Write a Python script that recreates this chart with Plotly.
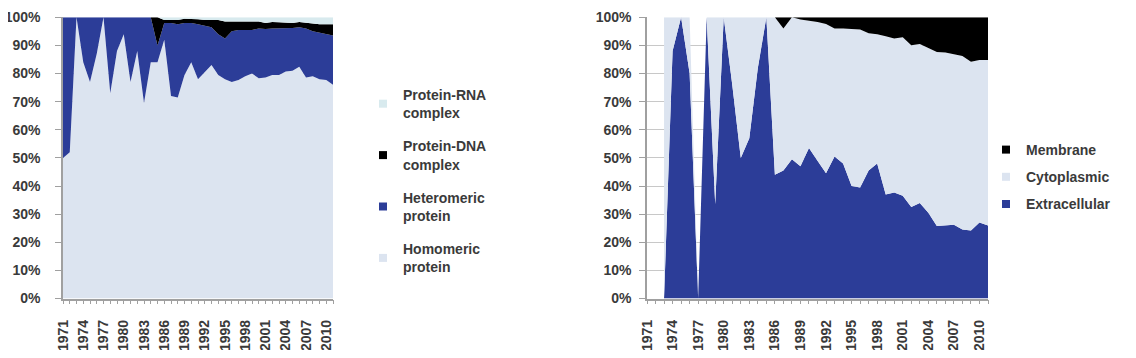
import plotly.graph_objects as go

# ---------------- data (percent shares) ----------------
years_left = list(range(1971, 2012))
homomeric = [50, 52, 100, 84, 77, 87, 100, 73, 88, 94, 77, 88, 69.5, 84, 84, 92,
             72, 71.5, 79.5, 84, 78, 80.5, 83, 79.5, 78, 77, 77.7, 79, 80, 78.3,
             78.6, 79.5, 79.5, 80.7, 81, 82.4, 78.6, 79, 78, 77.7, 76]
heteromeric = [50, 48, 0, 16, 23, 13, 0, 27, 12, 6, 23, 12, 30.5, 16, 6, 6,
               26, 26, 18.5, 14, 19.5, 16.5, 13.5, 14.5, 14.5, 18, 17.8, 16.5, 15.5, 17.7,
               17.2, 16.5, 16.5, 15.3, 15.2, 14.1, 17.4, 16, 16.5, 16.3, 17.5]
protein_dna = [0, 0, 0, 0, 0, 0, 0, 0, 0, 0, 0, 0, 0, 0, 10, 1,
               1, 1.5, 1.5, 1.5, 1.8, 2, 2.5, 5, 6, 3.5, 3, 2.8, 3, 2.5,
               2.2, 2.3, 2.2, 2, 1.8, 1.8, 2, 2.8, 3, 3.5, 4]
protein_rna = [0, 0, 0, 0, 0, 0, 0, 0, 0, 0, 0, 0, 0, 0, 0, 1,
               1, 1, 0.5, 0.5, 0.7, 1, 1, 1, 1.5, 1.5, 1.5, 1.7, 1.5, 1.5,
               2, 1.7, 1.8, 2, 2, 1.7, 2, 2.2, 2.5, 2.5, 2.5]

years_right = list(range(1973, 2012))
extracellular = [0, 88, 100, 80, 0, 100, 33.5, 100, 76, 50, 57, 82, 100, 44,
                 45.5, 49.5, 47, 53.5, 49, 44.5, 50.5, 48, 40, 39.5, 45.5, 48,
                 37, 37.7, 36.5, 32.5, 34, 30.5, 25.8, 26, 26.2, 24.5, 24.2, 27, 26]
cytoplasmic = [100, 12, 0, 20, 0, 0, 66.5, 0, 24, 50, 43, 18, 0, 56,
               50.5, 50.5, 52.2, 45.3, 49.3, 53.1, 45.5, 48, 55.8, 56.2, 48.8, 46,
               56.3, 54.8, 56.4, 57.6, 56.5, 58.5, 61.9, 61.5, 60.6, 61.7, 60, 57.8, 58.8]
membrane = [0, 0, 0, 0, 0, 0, 0, 0, 0, 0, 0, 0, 0, 0,
            4, 0, 0.8, 1.2, 1.7, 2.4, 4, 4, 4.2, 4.3, 5.7, 6,
            6.7, 7.5, 7.1, 9.9, 9.5, 11, 12.3, 12.5, 13.2, 13.8, 15.8, 15.2, 15.2]

# ---------------- styles ----------------
LIGHT = "#dce4f0"
BLUE = "#2c3d98"
BLACK = "#000000"
RNA = "#d8eaee"
TXT = "#3a3a3a"
FONT = "Liberation Sans"

fig = go.Figure()

left_series = [("Homomeric<br>protein", homomeric, LIGHT),
               ("Heteromeric<br>protein", heteromeric, BLUE),
               ("Protein-DNA<br>complex", protein_dna, BLACK),
               ("Protein-RNA<br>complex", protein_rna, RNA)]
for name, vals, col in left_series:
    fig.add_trace(go.Scatter(x=years_left, y=vals, name=name, mode="lines",
                             stackgroup="L", line=dict(width=0, color=col),
                             fillcolor=col, xaxis="x", yaxis="y", showlegend=False))

right_series = [("Extracellular", extracellular, BLUE),
                ("Cytoplasmic", cytoplasmic, LIGHT),
                ("Membrane", membrane, BLACK)]
for name, vals, col in right_series:
    fig.add_trace(go.Scatter(x=years_right, y=vals, name=name, mode="lines",
                             stackgroup="R", line=dict(width=0, color=col),
                             fillcolor=col, xaxis="x2", yaxis="y2", showlegend=False))

# legend entries (small square keys, listed top to bottom as in the chart)
for i, (name, _, col) in enumerate(reversed(left_series)):
    fig.add_trace(go.Scatter(x=[None], y=[None], name=name, mode="markers",
                             marker=dict(symbol="square", size=8, color=col),
                             legend="legend", legendgroup=f"L{i}",
                             xaxis="x", yaxis="y"))
for i, (name, _, col) in enumerate(reversed(right_series)):
    fig.add_trace(go.Scatter(x=[None], y=[None], name=name, mode="markers",
                             marker=dict(symbol="square", size=8, color=col),
                             legend="legend2", legendgroup=f"R{i}",
                             xaxis="x2", yaxis="y2"))

# page has an 8px body margin, so the figure is 16px smaller than the window
W, H = 1120, 342
OFF = 8
ydom = [(H - (298.5 - OFF)) / H, (H - (17.3 - OFF)) / H]

xcommon = dict(range=[1971, 2011], tick0=1971, dtick=3, tickangle=-90,
               ticks="outside", ticklen=4, tickcolor="#a0a0a0",
               showline=True, linecolor="#a0a0a0", linewidth=1.5,
               showgrid=False, zeroline=False, automargin=False,
               tickfont=dict(family=FONT, size=14, color=TXT, weight="bold"),
               ticklabelstandoff=10,
               minor=dict(dtick=1, tick0=1971, ticks="outside", ticklen=4,
                          tickcolor="#a0a0a0", showgrid=False))
ycommon = dict(range=[0, 100], tick0=0, dtick=10, ticksuffix="%",
               ticks="outside", ticklen=6, tickcolor="#a0a0a0",
               showline=True, linecolor="#a0a0a0", linewidth=1.5,
               showgrid=True, gridcolor="#c8c8c8", gridwidth=1, zeroline=False,
               automargin=False,
               tickfont=dict(family=FONT, size=14, color=TXT, weight="bold"))

legfont = dict(family=FONT, size=14, color=TXT, weight="bold")
fig.update_layout(
    width=W, height=H,
    margin=dict(l=0, r=0, t=0, b=0),
    paper_bgcolor="white", plot_bgcolor="white",
    xaxis=dict(domain=[(63 - OFF) / W, (333 - OFF) / W], anchor="y", **xcommon),
    yaxis=dict(domain=ydom, anchor="x", ticklabelstandoff=12, **ycommon),
    xaxis2=dict(domain=[(647 - OFF) / W, (988 - OFF) / W], anchor="y2", **xcommon),
    yaxis2=dict(domain=ydom, anchor="x2", ticklabelstandoff=5, **ycommon),
    showlegend=True,
    legend=dict(x=355 / W, y=1 - 71 / H, xanchor="left", yanchor="top",
                traceorder="grouped", bgcolor="rgba(0,0,0,0)",
                font=legfont, tracegroupgap=12, itemwidth=30),
    legend2=dict(x=978 / W, y=1 - 126 / H, xanchor="left", yanchor="top",
                 traceorder="grouped", bgcolor="rgba(0,0,0,0)",
                 font=legfont, tracegroupgap=6, itemwidth=30),
)

fig.write_html("out.html")
